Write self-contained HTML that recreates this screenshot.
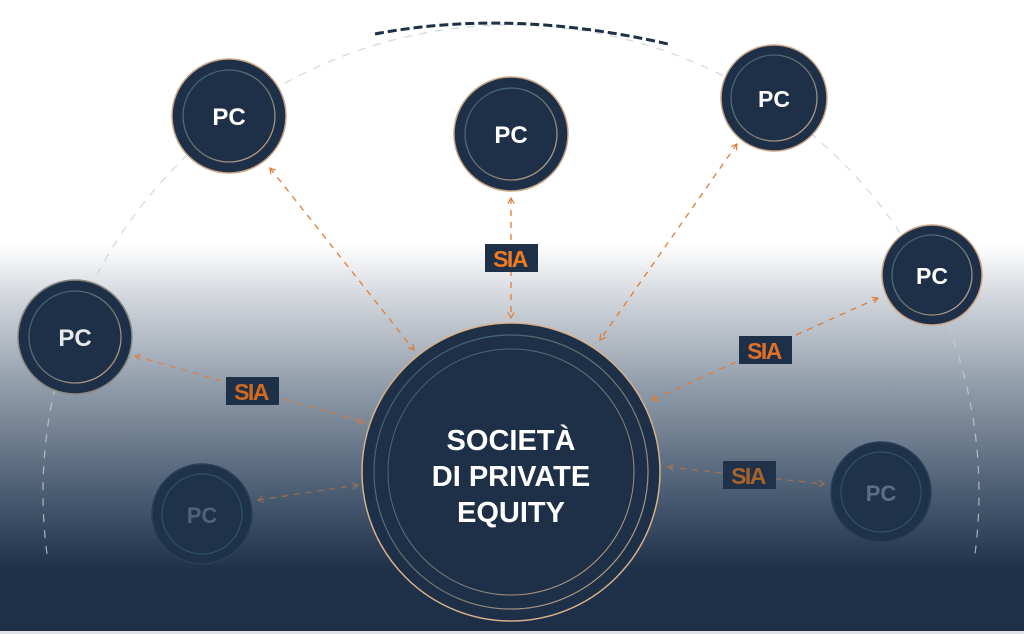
<!DOCTYPE html>
<html><head><meta charset="utf-8"><style>
html,body{margin:0;padding:0;width:1024px;height:634px;overflow:hidden}
svg{display:block}
text{font-family:"Liberation Sans",sans-serif;font-weight:bold}
</style></head><body>
<svg width="1024" height="634" viewBox="0 0 1024 634" xmlns="http://www.w3.org/2000/svg">
<defs>
<linearGradient id="bg" x1="0" y1="0" x2="0" y2="1">
<stop offset="0" stop-color="#ffffff"/>
<stop offset="0.385" stop-color="#ffffff"/>
<stop offset="0.47" stop-color="#d2d6dc"/>
<stop offset="0.62" stop-color="#8c98a6"/>
<stop offset="0.78" stop-color="#4a5c72"/>
<stop offset="0.9" stop-color="#1f3149"/>
<stop offset="1" stop-color="#1d3047"/>
</linearGradient>
<linearGradient id="ring" x1="0" y1="0" x2="1" y2="1">
<stop offset="0" stop-color="#2a5a70"/>
<stop offset="0.6" stop-color="#7a7a78"/>
<stop offset="1" stop-color="#d8b08a"/>
</linearGradient>
<marker id="ar" viewBox="0 0 10 10" refX="8" refY="5" markerWidth="6" markerHeight="6" orient="auto-start-reverse"><path d="M1 1 L8 5 L1 9" fill="none" stroke="#e07b36" stroke-width="1.5"/></marker>
</defs>
<rect width="1024" height="634" fill="url(#bg)"/>
<rect y="631" width="1024" height="3" fill="#dfe3e8"/>
<path d="M47 554 A468 468 0 1 1 975 554" fill="none" stroke="#c8ccd2" stroke-width="1.2" stroke-dasharray="8 8" opacity="0.8"/>
<path d="M375 34 Q511 8 668 44" fill="none" stroke="#1d3047" stroke-width="3" stroke-dasharray="9 4"/>
<g stroke="#e07b36" stroke-width="1.3" stroke-dasharray="6 6" fill="none" marker-start="url(#ar)" marker-end="url(#ar)">
<line x1="511" y1="198" x2="511" y2="318"/>
<line x1="270" y1="168" x2="414" y2="350"/>
<line x1="737" y1="144" x2="600" y2="340"/>
<line x1="878" y1="298" x2="652" y2="400"/>
<line x1="135" y1="356" x2="364" y2="422" opacity="0.8"/>
<line x1="258" y1="500" x2="358" y2="485" opacity="0.5"/>
<line x1="668" y1="467" x2="824" y2="484" opacity="0.5"/>
</g>
<circle cx="511" cy="472" r="149" fill="#1d3047" stroke="#d8b08a" stroke-width="1.5"/>
<circle cx="511" cy="472" r="137" fill="none" stroke="url(#ring)" stroke-width="1.2"/>
<circle cx="511" cy="472" r="123" fill="none" stroke="url(#ring)" stroke-width="1"/>
<g fill="#fff" font-size="29" text-anchor="middle">
<text x="511" y="450">SOCIETÀ</text>
<text x="511" y="486">DI PRIVATE</text>
<text x="511" y="522">EQUITY</text>
</g>
<g>
<circle cx="229" cy="116" r="57" fill="#1d3047" stroke="#c9a486" stroke-width="1.5"/><circle cx="229" cy="116" r="46" fill="none" stroke="url(#ring)" stroke-width="1.3"/><text x="229" y="125" fill="#fff" font-size="24" text-anchor="middle">PC</text>
<circle cx="511" cy="134" r="57" fill="#1d3047" stroke="#c9a486" stroke-width="1.5"/><circle cx="511" cy="134" r="46" fill="none" stroke="url(#ring)" stroke-width="1.3"/><text x="511" y="143" fill="#fff" font-size="24" text-anchor="middle">PC</text>
<circle cx="774" cy="98" r="53" fill="#1d3047" stroke="#c9a486" stroke-width="1.5"/><circle cx="774" cy="98" r="43" fill="none" stroke="url(#ring)" stroke-width="1.3"/><text x="774" y="107" fill="#fff" font-size="23" text-anchor="middle">PC</text>
<circle cx="932" cy="275" r="50" fill="#1d3047" stroke="#c9a486" stroke-width="1.5"/><circle cx="932" cy="275" r="40" fill="none" stroke="url(#ring)" stroke-width="1.3"/><text x="932" y="284" fill="#fff" font-size="23" text-anchor="middle">PC</text>
<circle cx="75" cy="337" r="57" fill="#1d3047" stroke="#8a8884" stroke-width="1.5"/><circle cx="75" cy="337" r="46" fill="none" stroke="url(#ring)" stroke-width="1.3"/><text x="75" y="346" fill="#e6e8ec" font-size="24" text-anchor="middle">PC</text>
<circle cx="202" cy="514" r="50" fill="#1e3249" stroke="#2a3f58" stroke-width="1.5"/><circle cx="202" cy="514" r="40" fill="none" stroke="#2f5268" stroke-width="1.2"/><text x="202" y="523" fill="#4e6278" font-size="22" text-anchor="middle">PC</text>
<circle cx="881" cy="492" r="50" fill="#1e3249" stroke="#2a3f58" stroke-width="1.5"/><circle cx="881" cy="492" r="40" fill="none" stroke="#2f5268" stroke-width="1.2"/><text x="881" y="501" fill="#5a6e84" font-size="22" text-anchor="middle">PC</text>
</g>
<g font-size="23" text-anchor="middle" letter-spacing="-1.5">
<rect x="485" y="244" width="53" height="28" fill="#1d3047"/><text x="510" y="267" fill="#f07a22">SIA</text>
<rect x="226" y="377" width="53" height="28" fill="#1d3047"/><text x="251" y="400" fill="#d06a22">SIA</text>
<rect x="739" y="336" width="53" height="28" fill="#1d3047"/><text x="764" y="359" fill="#e07026">SIA</text>
<rect x="723" y="461" width="53" height="28" fill="#1f3249"/><text x="748" y="484" fill="#a8622a">SIA</text>
</g>
</svg>
</body></html>
